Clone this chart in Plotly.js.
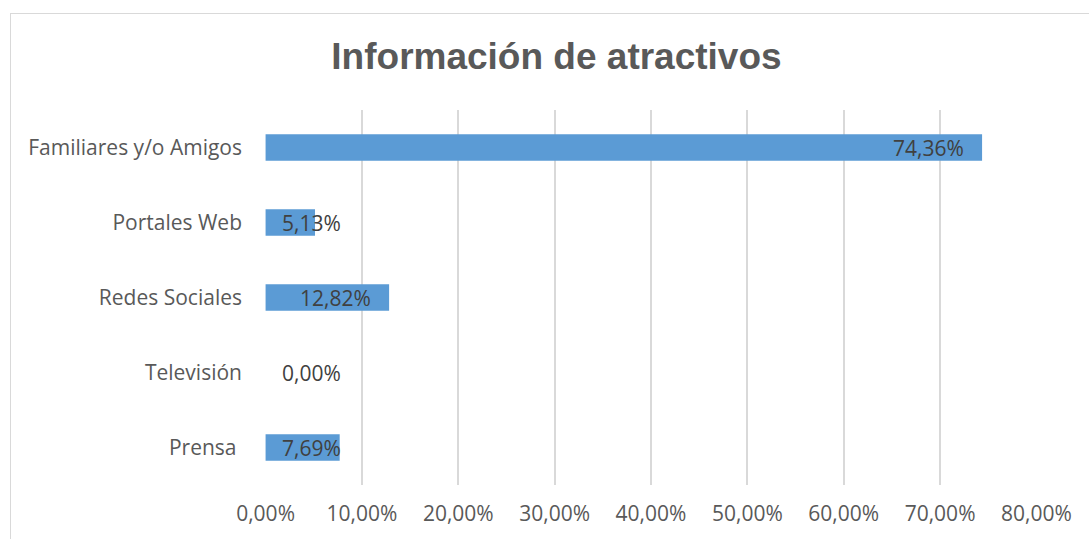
<!DOCTYPE html>
<html>
<head>
<meta charset="utf-8">
<script src="https://cdn.plot.ly/plotly-3.0.1.min.js"></script>
<style>
  html, body { margin: 0; padding: 0; background: #fff; overflow: hidden; }
  #frame { position: absolute; left: 10px; top: 13px; width: 1200px; height: 700px;
           border-left: 1px solid #d9d9d9; border-top: 1px solid #d9d9d9; pointer-events: none; }
  #chart { position: absolute; left: 0; top: 0; width: 1089px; height: 539px; }
</style>
</head>
<body>
<div id="chart"></div>
<div id="frame"></div>
<script>
// Información de atractivos - horizontal bar chart
const categories = ['Familiares y/o Amigos', 'Portales Web', 'Redes Sociales', 'Televisión', 'Prensa\u00a0'];
const values = [74.36, 5.13, 12.82, 0.00, 7.69];
const tickValues = [0, 10, 20, 30, 40, 50, 60, 70, 80];

const fmt = v => v.toFixed(2).replace('.', ',') + '%';

// Excel-style "inside end" labels; short bars get the label pushed to the start
const labels = categories.map((c, i) => {
  const small = values[i] < 10;
  return {
    x: small ? 0 : values[i],
    y: c,
    xref: 'x', yref: 'y',
    text: fmt(values[i]),
    showarrow: false,
    xanchor: small ? 'left' : 'right',
    xshift: small ? 14 : -16,
    font: { family: 'Open Sans', size: 21, color: '#404040' }
  };
});

const traces = [{
  type: 'bar',
  orientation: 'h',
  x: values,
  y: categories,
  marker: { color: '#5b9bd5' },
  hoverinfo: 'skip'
}];

Plotly.newPlot('chart', traces, {
  width: 1089,
  height: 539,
  margin: { l: 265, r: 52, t: 110, b: 54 },
  paper_bgcolor: 'rgba(0,0,0,0)',
  plot_bgcolor: 'rgba(0,0,0,0)',
  bargap: 0.647,
  showlegend: false,
  title: {
    text: '<b>Información de atractivos</b>',
    font: { family: 'Liberation Sans', size: 37, color: '#595959' },
    xref: 'container', x: 0.511, xanchor: 'center',
    yref: 'container', y: 0.896, yanchor: 'middle'
  },
  xaxis: {
    range: [-0.06, 80.06],
    tickvals: tickValues,
    ticktext: tickValues.map(fmt),
    showgrid: true,
    gridcolor: '#d9d9d9',
    gridwidth: 2,
    zeroline: false,
    showline: false,
    ticks: '',
    ticklabelstandoff: 14,
    tickfont: { family: 'Open Sans', size: 21, color: '#595959' },
    fixedrange: true
  },
  yaxis: {
    categoryorder: 'array',
    categoryarray: categories.slice().reverse(),
    showgrid: false,
    zeroline: false,
    showline: false,
    ticks: '',
    ticklabelstandoff: 22,
    tickfont: { family: 'Open Sans', size: 21, color: '#595959' },
    fixedrange: true
  },
  annotations: labels
}, { displayModeBar: false, staticPlot: true });
</script>
</body>
</html>
